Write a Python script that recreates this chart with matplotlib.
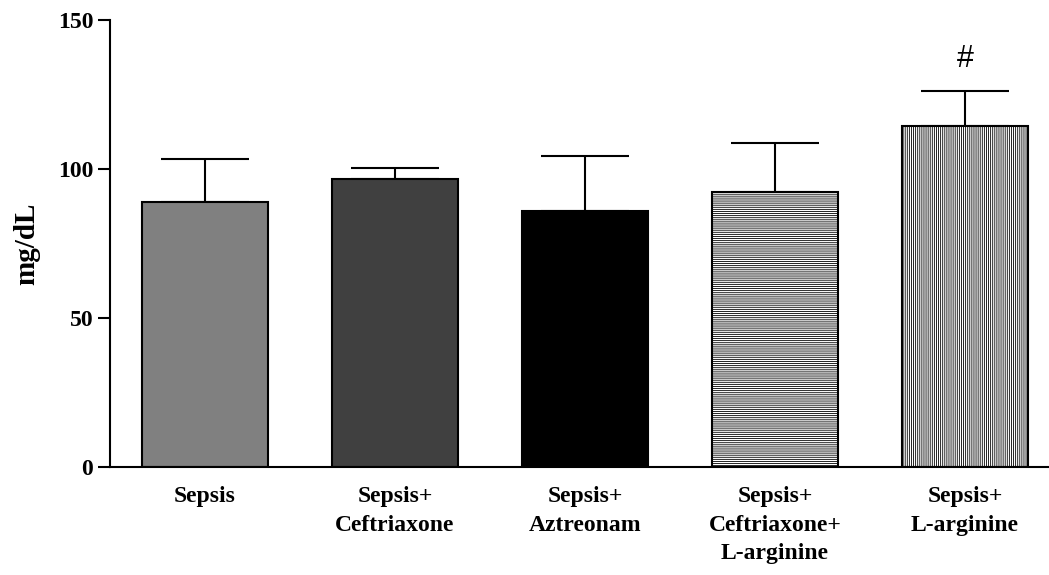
import matplotlib
matplotlib.use('Agg')
import matplotlib.pyplot as plt
import numpy as np

groups = ['Sepsis', 'Sepsis+\nCeftriaxone', 'Sepsis+\nAztreonam',
          'Sepsis+\nCeftriaxone+\nL-arginine', 'Sepsis+\nL-arginine']
means = [89.0, 96.7, 86.0, 92.2, 114.3]
sem = [14.4, 3.6, 18.3, 16.4, 11.8]
marks = ['', '', '', '', '#']

fills = ['#808080', '#404040', '#000000', 'white', 'white']
hatches = [None, None, None, '-' * 8, '|' * 8]

plt.rcParams['font.family'] = ['Liberation Serif', 'DejaVu Serif']
plt.rcParams['font.weight'] = 'bold'
plt.rcParams['hatch.linewidth'] = 0.6
plt.rcParams['hatch.color'] = '#555555'

fig = plt.figure(figsize=(10.49, 5.75), dpi=100)
ax = fig.add_axes([0.1049, 0.1878, 0.8951, 0.7774])

x = np.arange(len(groups))
ax.bar(x, means, width=0.66, color=fills, hatch=hatches,
       edgecolor='black', linewidth=1.5, zorder=2)
ax.errorbar(x, means, yerr=[np.zeros(len(sem)), sem], fmt='none',
            ecolor='black', elinewidth=1.5, capsize=32, capthick=1.5, zorder=1)

# significance mark above the error bar
for xi, m, s, t in zip(x, means, sem, marks):
    if t:
        ax.text(xi, m + s + 10.7, t, ha='center', va='center', fontsize=22,
                family='Liberation Sans', fontweight='normal')

ax.set_xlim(-0.5, 4.442)
ax.set_ylim(0, 150)
ax.set_yticks([0, 50, 100, 150])
ax.set_xticks(x)
ax.set_xticklabels(groups, fontsize=17, fontweight='bold', linespacing=1.47)
ax.tick_params(axis='x', length=0, pad=14)
ax.tick_params(axis='y', length=9, width=1.5, labelsize=17, pad=3)
ax.set_ylabel('mg/dL', fontsize=21, fontweight='bold', labelpad=13)

ax.spines['top'].set_visible(False)
ax.spines['right'].set_visible(False)
ax.spines['left'].set_linewidth(1.5)
ax.spines['bottom'].set_linewidth(1.5)

fig.savefig('out.png', dpi=100)
